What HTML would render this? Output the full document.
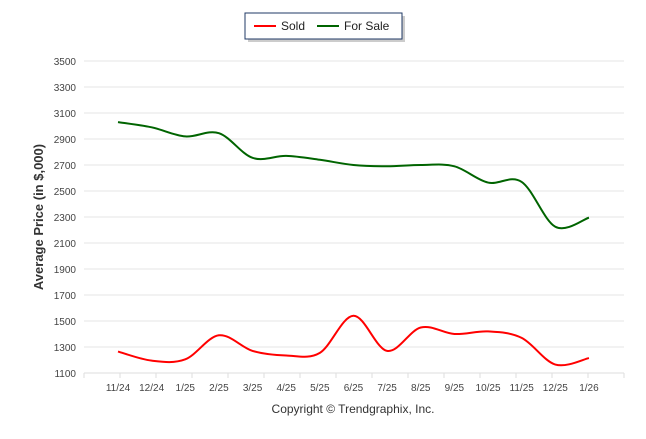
<!DOCTYPE html>
<html><head><meta charset="utf-8"><style>
body{margin:0;background:#fff;width:646px;height:434px;overflow:hidden;font-family:"Liberation Sans",sans-serif}
</style></head><body>
<svg id="s" width="646" height="434" xmlns="http://www.w3.org/2000/svg" font-family="Liberation Sans, sans-serif">
<rect x="246" y="14" width="157" height="26" fill="#999" opacity="0.5" transform="translate(2,2)"/>
<rect x="245" y="13" width="157" height="26" fill="#fff" stroke="#1f3864" stroke-width="1"/>
<line x1="254" y1="26" x2="276" y2="26" stroke="#f00" stroke-width="2"/>
<text x="281" y="30" font-size="12" fill="#222">Sold</text>
<line x1="317" y1="26" x2="339" y2="26" stroke="#006400" stroke-width="2"/>
<text x="344" y="30" font-size="12" fill="#222">For Sale</text>
<g id="grid"></g>
<text transform="translate(43,217) rotate(-90)" text-anchor="middle" font-size="13" font-weight="bold" fill="#333">Average Price (in $,000)</text>
<text x="353" y="413" text-anchor="middle" font-size="12" fill="#333">Copyright © Trendgraphix, Inc.</text>
<path id="fs" fill="none" stroke="#006400" stroke-width="2"/>
<path id="sd" fill="none" stroke="#f00" stroke-width="2"/>
</svg>
<script>
var g=document.getElementById('grid'),h='';
function Y(v){return 373-(v-1100)*0.13}
for(var v=1100;v<=3500;v+=200){var y=Y(v);h+='<line x1="84" x2="624" y1="'+y+'" y2="'+y+'" stroke="#e6e6e6"/><text x="76" y="'+(y+4)+'" text-anchor="end" font-size="10" fill="#444">'+v+'</text>';}
var L=['11/24','12/24','1/25','2/25','3/25','4/25','5/25','6/25','7/25','8/25','9/25','10/25','11/25','12/25','1/26'];
function X(i){return 118+i*33.64}
h+='<line x1="84" x2="624" y1="373" y2="373" stroke="#ddd"/>';
for(var i=0;i<15;i++)h+='<text x="'+X(i)+'" y="391" text-anchor="middle" font-size="10" fill="#444">'+L[i]+'</text>';
for(var i=0;i<=15;i++){var x=84+i*36;h+='<line x1="'+x+'" x2="'+x+'" y1="373" y2="378" stroke="#ddd"/>';}
g.innerHTML=h;
function path(d){var p=d.map(function(v,i){return [X(i),Y(v)]});var s='M'+p[0];for(var i=0;i<p.length-1;i++){var a=p[i-1]||p[i],b=p[i],c=p[i+1],e=p[i+2]||c;var t=6;s+='C'+(b[0]+(c[0]-a[0])/t)+','+(b[1]+(c[1]-a[1])/t)+' '+(c[0]-(e[0]-b[0])/t)+','+(c[1]-(e[1]-b[1])/t)+' '+c;}return s}
document.getElementById('fs').setAttribute('d',path([3030,2990,2920,2945,2755,2770,2740,2700,2690,2700,2690,2565,2570,2225,2295]));
document.getElementById('sd').setAttribute('d',path([1265,1195,1205,1390,1270,1235,1255,1540,1270,1450,1400,1420,1370,1165,1215]));
</script>
</body></html>
